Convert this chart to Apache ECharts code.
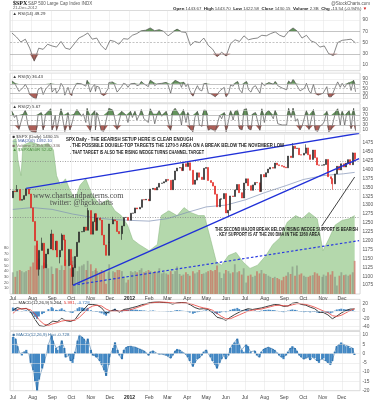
<!DOCTYPE html>
<html>
<head>
<meta charset="utf-8">
<script src="https://cdn.jsdelivr.net/npm/echarts@6/dist/echarts.min.js"></script>
<style>
html,body{margin:0;padding:0;background:#fff;}
#chart{width:377px;height:400px;}
</style>
</head>
<body>
<div id="chart"></div>
<script>
// ---- daily samples (about two per week) ----
const days = [
 '2011-07-01','2011-07-05','2011-07-08','2011-07-12','2011-07-15','2011-07-19','2011-07-22','2011-07-26','2011-07-29',
 '2011-08-02','2011-08-05','2011-08-08','2011-08-11','2011-08-16','2011-08-19','2011-08-23','2011-08-26','2011-08-31',
 '2011-09-02','2011-09-07','2011-09-09','2011-09-13','2011-09-16','2011-09-20','2011-09-22','2011-09-27','2011-09-30',
 '2011-10-03','2011-10-04','2011-10-07','2011-10-11','2011-10-14','2011-10-18','2011-10-21','2011-10-25','2011-10-27',
 '2011-11-01','2011-11-04','2011-11-08','2011-11-09','2011-11-11','2011-11-15','2011-11-18','2011-11-22','2011-11-25','2011-11-29','2011-11-30',
 '2011-12-06','2011-12-09','2011-12-13','2011-12-16','2011-12-20','2011-12-23','2011-12-27','2011-12-30',
 '2012-01-03','2012-01-06','2012-01-10','2012-01-13','2012-01-17','2012-01-20','2012-01-24','2012-01-27','2012-01-31',
 '2012-02-03','2012-02-07','2012-02-10','2012-02-14','2012-02-17','2012-02-21','2012-02-24','2012-02-28',
 '2012-03-02','2012-03-06','2012-03-09','2012-03-13','2012-03-16','2012-03-20','2012-03-23','2012-03-26','2012-03-30',
 '2012-04-02','2012-04-05','2012-04-10','2012-04-13','2012-04-17','2012-04-20','2012-04-24','2012-04-27',
 '2012-05-01','2012-05-04','2012-05-08','2012-05-11','2012-05-15','2012-05-18','2012-05-22','2012-05-25','2012-05-29',
 '2012-06-01','2012-06-05','2012-06-08','2012-06-12','2012-06-15','2012-06-19','2012-06-22','2012-06-26','2012-06-29',
 '2012-07-03','2012-07-06','2012-07-10','2012-07-13','2012-07-17','2012-07-20','2012-07-24','2012-07-27','2012-07-31',
 '2012-08-03','2012-08-07','2012-08-10','2012-08-14','2012-08-17','2012-08-21','2012-08-24','2012-08-28','2012-08-31',
 '2012-09-04','2012-09-07','2012-09-11','2012-09-14','2012-09-18','2012-09-21','2012-09-25','2012-09-28',
 '2012-10-02','2012-10-05','2012-10-09','2012-10-12','2012-10-16','2012-10-19','2012-10-23','2012-10-26','2012-10-31',
 '2012-11-02','2012-11-06','2012-11-09','2012-11-13','2012-11-16','2012-11-20','2012-11-23','2012-11-27','2012-11-30',
 '2012-12-04','2012-12-07','2012-12-11','2012-12-14','2012-12-18','2012-12-21'
];
const firstOpen = 1320.6;
const closes = [
 1339.7,1337.9,1343.8,1313.6,1316.1,1326.7,1345.0,1331.3,1292.3,
 1254.0,1199.4,1119.5,1172.6,1192.8,1123.5,1162.4,1176.8,1218.9,
 1174.0,1198.6,1154.2,1172.9,1216.0,1202.1,1129.6,1175.4,1131.4,
 1099.2,1124.0,1155.5,1195.5,1224.6,1225.4,1238.3,1229.1,1284.6,
 1218.3,1253.2,1275.9,1229.1,1263.9,1257.8,1215.7,1188.0,1158.7,1195.2,1247.0,
 1258.5,1255.2,1225.7,1219.7,1241.3,1265.3,1265.4,1257.6,
 1277.1,1277.8,1292.1,1289.1,1293.7,1315.4,1314.7,1316.3,1312.4,
 1344.9,1347.1,1342.6,1350.5,1361.2,1362.2,1365.7,1372.2,
 1369.6,1343.4,1370.9,1396.0,1404.2,1405.5,1397.1,1416.5,1408.5,
 1419.0,1398.1,1358.6,1370.3,1390.8,1378.5,1372.0,1403.4,
 1405.8,1369.1,1363.7,1353.4,1330.7,1295.2,1316.6,1317.8,1332.4,
 1278.0,1285.5,1325.7,1324.2,1342.8,1358.0,1335.0,1320.0,1362.2,
 1374.0,1354.7,1341.5,1356.8,1363.7,1362.7,1338.3,1386.0,1379.3,
 1391.0,1401.4,1405.9,1403.9,1418.2,1413.2,1411.1,1409.3,1406.6,
 1404.9,1437.9,1433.6,1465.8,1459.3,1460.2,1441.6,1440.7,
 1445.8,1460.9,1441.5,1428.6,1454.9,1433.2,1413.1,1411.9,1412.2,
 1414.2,1428.4,1379.9,1374.5,1359.9,1387.8,1409.2,1398.9,1416.2,
 1407.1,1418.1,1427.8,1413.6,1446.8,1430.2
];
// intraday extremes that stick out of the bodies
const wickDays = ['2011-07-08','2011-07-22','2011-08-11','2011-08-16','2011-08-19','2011-08-31','2011-09-13','2011-09-16',
 '2011-10-04','2011-10-27','2011-11-25','2011-12-06','2011-12-20','2012-04-02','2012-04-10','2012-06-05','2012-09-14',
 '2012-10-05','2012-11-16','2012-12-18','2012-12-21'];
const wickLow  = [null,null,1101.54,null,1121.09,null,1136.22,null,1074.77,null,1158.66,null,1202.37,null,1357.38,1266.74,null,null,1343.35,null,1422.58];
const wickHigh = [1356.48,1347.0,null,1208.47,null,1230.71,null,1220.39,null,1292.66,null,1267.06,null,1422.38,null,null,1474.51,1470.96,null,1448.0,1443.7];
// volume, in 100M shares
const volumes = [
 38,30,40,42,40,38,40,42,48,
 55,85,88,62,50,55,52,45,48,
 35,45,45,42,50,42,60,50,45,
 58,65,52,40,48,50,52,42,58,
 52,40,42,45,40,38,42,40,18,38,52,
 40,38,42,42,40,30,20,25,
 40,38,40,38,42,45,38,40,42,
 40,38,40,38,45,36,38,36,
 34,40,35,40,48,35,32,34,38,
 35,32,40,36,38,42,35,36,
 38,40,42,40,42,50,38,28,36,
 42,40,36,38,52,38,40,34,45,
 20,32,34,30,32,40,36,42,36,
 35,32,30,28,30,28,26,24,30,
 32,38,35,48,32,50,34,36,
 32,30,30,32,33,38,36,32,30,
 34,32,38,34,40,30,15,32,38,
 33,34,32,34,38,58
];
const rsi5 = [
 82,74,72,38,42,55,68,48,25,
 15,10,6,45,55,25,48,55,72,
 35,52,30,45,72,55,22,55,30,
 20,38,55,72,80,70,72,60,85,
 35,55,68,38,60,55,28,20,12,50,75,
 78,65,35,32,58,72,68,55,
 70,62,72,62,65,80,70,68,58,
 85,78,62,70,78,72,72,76,
 65,30,68,85,85,75,55,78,58,
 70,42,18,40,62,45,40,70,
 72,30,28,25,15,8,40,42,55,
 15,30,65,60,72,80,45,32,72,
 80,45,35,55,62,58,30,75,62,
 70,75,76,68,80,62,58,52,48,
 45,82,72,90,72,70,40,38,
 52,72,40,30,68,35,22,25,30,
 35,58,15,15,10,60,78,55,72,
 55,68,75,42,85,36.43
];
const rsi2 = [
 85,60,70,12,40,75,90,30,8,
 3,2,1,70,80,10,75,80,95,
 10,70,8,55,95,35,4,80,10,
 3,45,75,92,95,65,75,40,97,
 5,70,88,10,80,45,8,5,2,85,97,
 90,60,12,20,85,92,70,40,
 85,60,85,50,70,92,55,60,40,
 95,75,35,75,88,65,70,85,
 45,8,85,97,92,70,30,92,40,
 80,15,3,60,85,30,25,90,
 88,8,15,15,5,2,70,55,80,
 3,50,88,50,85,90,15,10,92,
 95,15,10,75,80,50,8,95,40,
 80,88,85,55,90,35,40,30,35,
 30,97,60,98,45,55,10,25,
 60,88,12,10,92,8,5,25,35,
 45,85,3,12,5,85,95,30,85,
 30,75,88,15,97,5.67
];
const macdHist = [
 9,8,4,0,-1,1,2,0,-5,
 -9,-15,-20,-14,-8,-5,0,5,10,
 7,3,2,4,7,3,-2,-1,-4,
 -5,-3,1,7,10,9,8,6,8,
 2,-1,-1,-2,-2,-4,-6,-9,-12,-6,-2,
 3,6,2,-1,-3,2,3.5,4,
 4,3.5,3.5,3,2.5,2,1.5,0.5,-1,
 1,1.5,0.5,0,-0.5,-0.3,-0.5,-1,
 -1.5,-2.5,-1,1.5,2.5,2,1,0.5,-0.5,
 -2,-4,-7,-5,-3,-2.5,-1,1,
 2,0,-2,-4,-6,-8,-5,-3,-1,
 -3,-1,3,5,6,8,5,2,1,
 5,4,1,0,1.5,-1,-2,1,2.5,
 3,3.5,3,2.5,2,0.5,-1,-2,-3,
 -1,1,3,4,3,1.5,-1,-2,
 -3,-2.5,-2,-3.5,-2,-2.5,-4,-5,-3,
 -2.5,-4,-5,-6,-4,1,4,5,6,
 5,4,4,3,3,-0.728
];

// ---- weekly samples (Fridays) ----
const weeks = [
 '2011-07-01','2011-07-08','2011-07-15','2011-07-22','2011-07-29','2011-08-05','2011-08-12','2011-08-19','2011-08-26',
 '2011-09-02','2011-09-09','2011-09-16','2011-09-23','2011-09-30','2011-10-07','2011-10-14','2011-10-21','2011-10-28',
 '2011-11-04','2011-11-11','2011-11-18','2011-11-25','2011-12-02','2011-12-09','2011-12-16','2011-12-23','2011-12-30',
 '2012-01-06','2012-01-13','2012-01-20','2012-01-27','2012-02-03','2012-02-10','2012-02-17','2012-02-24',
 '2012-03-02','2012-03-09','2012-03-16','2012-03-23','2012-03-30','2012-04-06','2012-04-13','2012-04-20','2012-04-27',
 '2012-05-04','2012-05-11','2012-05-18','2012-05-25','2012-06-01','2012-06-08','2012-06-15','2012-06-22','2012-06-29',
 '2012-07-06','2012-07-13','2012-07-20','2012-07-27','2012-08-03','2012-08-10','2012-08-17','2012-08-24','2012-08-31',
 '2012-09-07','2012-09-14','2012-09-21','2012-09-28','2012-10-05','2012-10-12','2012-10-19','2012-10-26',
 '2012-11-02','2012-11-09','2012-11-16','2012-11-23','2012-11-30','2012-12-07','2012-12-14','2012-12-21'
];
const rsi14 = [
 67,60,51,56,40,17,40,38,47,
 44,42,52,40,38,48,58,62,67,
 56,58,45,37,54,52,47,57,56,
 63,66,71,72,76,71,73,70,
 62,68,74,69,68,45,52,50,58,
 45,38,25,33,26,48,55,52,62,
 55,57,58,63,62,66,69,63,60,
 70,76,70,58,63,53,50,42,
 44,30,27,50,54,55,56,49.29
];
const macdLine = [
 2,9,5,7,-2,-22,-38,-40,-34,
 -26,-28,-19,-25,-27,-22,-6,4,17,
 17,15,8,-6,0,4,-3,4,6,
 9,12,16,19,22,23,23,22,
 21,18,21,22,21,16,9,5,6,
 4,-4,-16,-19,-24,-16,-9,-3,2,
 6,4,6,8,11,14,17,16,12,
 13,20,22,17,15,10,6,-3,
 -4,-10,-20,-13,-5,1,5,5.264
];
const signalLine = [
 -6,4,6,6,3,-8,-24,-34,-37,
 -33,-30,-26,-24,-24,-24,-16,-5,7,
 13,15,13,5,0,0,0,1,2,
 5,9,13,17,20,22,23,23,
 22,21,20,21,21,19,15,11,8,
 6,2,-6,-14,-20,-20,-15,-10,-5,
 0,2,4,5,8,11,14,15,14,
 13,16,19,19,17,14,10,5,
 0,-4,-12,-14,-11,-5,1,5.991
];

// ---- breadth-style indicator drawn as the green area (0..100) ----
const greenDates = ['2011-07-01','2011-07-06','2011-07-09','2011-07-14','2011-07-17','2011-07-29','2011-08-14','2011-08-26',
 '2011-09-03','2011-09-08','2011-09-14','2011-09-22','2011-09-29','2011-10-07','2011-10-15','2011-10-24','2011-11-03',
 '2011-11-15','2011-11-28','2011-12-09','2011-12-19','2011-12-29','2012-01-06','2012-01-16','2012-02-01','2012-02-14',
 '2012-02-20','2012-03-03','2012-03-16','2012-03-27','2012-04-06','2012-04-19','2012-04-28','2012-05-08','2012-05-17',
 '2012-05-25','2012-06-05','2012-06-17','2012-06-28','2012-07-09','2012-07-21','2012-08-03','2012-08-14','2012-08-25',
 '2012-09-06','2012-09-19','2012-09-29','2012-10-10','2012-10-23','2012-11-01','2012-11-11','2012-11-20','2012-12-01',
 '2012-12-12','2012-12-21'];
const greenVals = [96,97,84,74,93,95,93,94,90,74,68,72,65,59,68,72,62,56,59,52,49,43,34,31,27,31,
 49,52,49,54,51,49,49,34,20,18,24,26,20,16,18,24,31,35,45,49,47,51,47,27,35,43,46,47,49];

// ---- 200 day moving average ----
const maDates = ['2011-07-01','2011-08-01','2011-09-01','2011-10-03','2011-11-01','2011-12-01','2012-01-03','2012-02-01',
 '2012-03-01','2012-04-02','2012-05-01','2012-06-01','2012-07-02','2012-08-01','2012-09-04','2012-10-01','2012-11-01','2012-12-03','2012-12-21'];
const maVals = [1288,1293,1288,1275,1266,1260,1257,1255,1262,1280,1295,1300,1315,1335,1355,1372,1383,1388,1392.1];

// ---- drawn annotations (date, price) ----
const wedgeTop = [['2011-07-22',1347.0],['2012-12-28',1502]];
const wedgeBottom = [['2011-10-04',1074.77],['2012-12-28',1431]];
const channelLow = [['2011-10-04',1074.77],['2012-12-28',1200]];
const supportLevels = [1422.38, 1343.35, 1266.74];
const arrowFrom = ['2012-10-30',1241], arrowTo = ['2012-12-21',1379];
const noteDates = ['2011-07-07','2011-08-15','2011-08-31','2011-08-09','2011-08-22','2011-09-12','2011-10-04','2011-10-27',
 '2011-11-25','2011-12-05','2011-12-19','2012-04-02','2012-06-04','2012-11-16'];
const noteVals = [1356.48,1208.47,1230.71,1101.54,1121.09,1136.22,1074.77,1292.66,1158.66,1267.06,1202.37,1422.38,1266.74,1343.35];
const noteSide = ['t','t','t','b','b','b','b','t','b','t','b','t','b','b'];
const circDates = ['2012-09-14','2012-12-19'];
const circVals = [1474.51, 1448.00];

// ---- tick labels ----
const priceTicks = [1075,1100,1125,1150,1175,1200,1225,1250,1275,1300,1325,1350,1375,1400,1425,1450,1475];
const rsiTicks = [10,30,50,70,90];
const macdTicks = [-40,-20,0,20];
const histTicks = [-20,-15,-10,-5,0,5,10];
const volTicks = [10,20,30,40,50,60,70,80];
const monthNames = ['Jan','Feb','Mar','Apr','May','Jun','Jul','Aug','Sep','Oct','Nov','Dec'];

const T = s => new Date(s + 'T00:00:00').getTime();
const DAY = 864e5;
const FONT = '"Liberation Sans", Arial, sans-serif';

const candleData = days.map((d, i) => {
  const o = i ? closes[i - 1] : firstOpen, c = closes[i];
  let lo = Math.min(o, c), hi = Math.max(o, c);
  const k = wickDays.indexOf(d);
  if (k >= 0) {
    if (wickLow[k] != null) lo = Math.min(lo, wickLow[k]);
    if (wickHigh[k] != null) hi = Math.max(hi, wickHigh[k]);
  }
  return [T(d), o, c, lo, hi];
});
const volData = days.map((d, i) => ({
  value: [T(d), volumes[i]],
  itemStyle: { color: closes[i] < (i ? closes[i - 1] : firstOpen) ? 'rgba(205,90,80,0.6)' : 'rgba(120,128,118,0.5)' }
}));
const histData = days.map((d, i) => [T(d), macdHist[i]]);
const pair = arr => arr.map(p => [T(p[0]), p[1]]);

function monthLabel(v) {
  const d = new Date(v);
  if (d.getDate() !== 1 || d.getHours() !== 0) return '';
  if (d.getMonth() === 0) return '{y|' + d.getFullYear() + '}';
  return monthNames[d.getMonth()];
}

function hLines(vals, style) {
  return { silent: true, symbol: 'none', label: { show: false }, animation: false,
    lineStyle: style, data: vals.map(v => ({ yAxis: v })) };
}
function rsiLines() {
  const faint = { color: '#e3e3e3', width: 0.5, type: 'solid' };
  const mid = { color: '#9c9c9c', width: 0.6, type: 'solid' };
  return { silent: true, symbol: 'none', label: { show: false }, animation: false,
    data: [
      { yAxis: 90, lineStyle: faint }, { yAxis: 70, lineStyle: mid },
      { yAxis: 50, lineStyle: { color: '#9c9c9c', width: 0.6, type: [2, 1.5] } },
      { yAxis: 30, lineStyle: mid }, { yAxis: 10, lineStyle: faint }
    ] };
}
function rsiSeries(idx, dates, vals) {
  const pts = vals.map((v, i) => [T(dates[i]), v]);
  const base = { type: 'line', xAxisIndex: idx, yAxisIndex: idx, symbol: 'none', silent: true, animation: false };
  return [
    Object.assign({}, base, { data: vals.map((v, i) => [T(dates[i]), Math.max(v, 70)]), z: 2,
      lineStyle: { width: 0, opacity: 0 }, areaStyle: { origin: 70, color: '#5b8d52', opacity: 0.95 } }),
    Object.assign({}, base, { data: vals.map((v, i) => [T(dates[i]), Math.min(v, 30)]), z: 2,
      lineStyle: { width: 0, opacity: 0 }, areaStyle: { origin: 30, color: '#a9564f', opacity: 0.95 } }),
    Object.assign({}, base, { data: pts, z: 3, lineStyle: { color: '#555', width: 0.7 }, markLine: rsiLines() })
  ];
}

const grids = [
  { top: 10.5, height: 60.2 },
  { top: 73.1, height: 29.7 },
  { top: 103.75, height: 28.75 },
  { top: 134, height: 160 },
  { top: 299.4, height: 31 },
  { top: 331.5, height: 59.2 }
].map(g => Object.assign({ left: 10, right: 17, show: true, borderColor: '#c2c2c2', borderWidth: 0.6, backgroundColor: '#fff' }, g));

const xAxes = grids.map((g, i) => ({
  type: 'time', gridIndex: i, min: T('2011-06-28'), max: T('2012-12-28'),
  splitNumber: 18, minInterval: 28 * DAY, maxInterval: 31 * DAY,
  axisLine: { show: false }, axisTick: { show: false },
  axisLabel: { show: i === 3 || i === 5, formatter: monthLabel, fontSize: 5, color: '#444', fontFamily: FONT,
    margin: i === 3 ? 2 : 4.3, rich: { y: { fontWeight: 'bold', fontSize: 5, color: '#222', fontFamily: FONT } } },
  splitLine: { show: true, lineStyle: { color: '#e3e3e3', width: 0.5 } }
}));

function yAx(gi, min, max, interval, ticks, extra) {
  return Object.assign({
    type: 'value', gridIndex: gi, position: 'right', min, max, interval,
    axisLine: { show: false }, axisTick: { show: false }, splitLine: { show: false },
    axisLabel: { fontSize: 4.8, color: '#555', margin: 2.5, fontFamily: FONT,
      formatter: v => ticks.indexOf(Math.round(v * 100) / 100) >= 0 ? String(v) : '' }
  }, extra || {});
}
const yAxes = [
  yAx(0, 0, 107, 10, rsiTicks),
  yAx(1, -10, 115, 10, rsiTicks),
  yAx(2, 0, 115, 10, rsiTicks),
  yAx(3, 1050, 1500, 25, priceTicks),
  { type: 'value', gridIndex: 3, min: 0, max: 100, show: false },
  yAx(3, 0, 280, 10, volTicks, { position: 'left' }),
  yAx(4, -50, 30, 10, macdTicks),
  yAx(5, -20, 11.9, 5, histTicks)
];
yAxes[5].axisLabel.fontSize = 4;
yAxes[5].axisLabel.margin = 1.5;

const notesSeries = {
  type: 'scatter', xAxisIndex: 3, yAxisIndex: 3, symbolSize: 0.1, z: 8, silent: true,
  itemStyle: { opacity: 0 },
  data: noteDates.map((d, i) => ({ value: [T(d), noteVals[i], noteVals[i]],
    label: { position: noteSide[i] === 't' ? 'top' : 'bottom' } })),
  label: { show: true, formatter: p => p.data.value[2].toFixed(2), distance: 1.5, offset: [-3, 0],
    fontSize: 4.3, color: '#333', fontFamily: FONT, backgroundColor: 'rgba(255,255,255,0.92)',
    borderColor: '#adadad', borderWidth: 0.5, padding: [0.8, 1] },
  markLine: { silent: true, animation: false, symbol: ['none', 'arrow'], symbolSize: [0, 4.5], label: { show: false },
    lineStyle: { color: '#111', width: 0.8, type: 'solid' },
    data: [[{ coord: [T(arrowFrom[0]), arrowFrom[1]] }, { coord: [T(arrowTo[0]), arrowTo[1]] }]] }
};
const circSeries = {
  type: 'scatter', xAxisIndex: 3, yAxisIndex: 3, symbolSize: 0.1, z: 8, silent: true,
  itemStyle: { opacity: 0 },
  data: circDates.map((d, i) => ({ value: [T(d), circVals[i], circVals[i]] })),
  label: { show: true, position: 'inside', offset: [-1, -3], formatter: p => p.data.value[2].toFixed(2),
    fontSize: 4.3, color: '#333', fontFamily: FONT, borderColor: '#333', borderWidth: 0.6,
    borderRadius: 6, padding: [2.5, 2.5], backgroundColor: 'rgba(255,255,255,0.3)' }
};
const trend = (pts, style) => ({ type: 'line', xAxisIndex: 3, yAxisIndex: 3, data: pair(pts), symbol: 'none',
  silent: true, z: 6, lineStyle: style });

const series = [].concat(
  rsiSeries(0, weeks, rsi14),
  rsiSeries(1, days, rsi5),
  rsiSeries(2, days, rsi2),
  [
    { type: 'line', xAxisIndex: 3, yAxisIndex: 4, symbol: 'none', silent: true, z: 1,
      data: greenDates.map((d, i) => [T(d), greenVals[i]]),
      lineStyle: { color: '#86b57c', width: 0.5 }, areaStyle: { color: '#b4d8ac', opacity: 1 },
      markLine: hLines(priceTicks, { color: 'rgba(0,0,0,0.07)', width: 0.5, type: 'solid' }) },
    { type: 'bar', xAxisIndex: 3, yAxisIndex: 5, data: volData, barWidth: 1.8, z: 2, silent: true },
    { type: 'line', xAxisIndex: 3, yAxisIndex: 3, symbol: 'none', silent: true, z: 3,
      data: maDates.map((d, i) => [T(d), maVals[i]]), lineStyle: { color: '#7f90b4', width: 0.7 } },
    { type: 'candlestick', xAxisIndex: 3, yAxisIndex: 3, data: candleData, barWidth: 1.5, z: 5, silent: true,
      itemStyle: { color: '#222', color0: '#e0201b', borderColor: '#222', borderColor0: '#e0201b', borderWidth: 0.6 },
      markLine: hLines(supportLevels, { color: '#808080', width: 0.7, type: [1, 1.5] }) },
    trend(wedgeTop, { color: '#2030d8', width: 1.3 }),
    trend(wedgeBottom, { color: '#2030d8', width: 1.3 }),
    trend(channelLow, { color: '#2a3ae0', width: 1.2, type: [2.5, 2] }),
    notesSeries,
    circSeries,
    { type: 'bar', xAxisIndex: 4, yAxisIndex: 6, data: histData, barWidth: 2, z: 2, silent: true,
      itemStyle: { color: '#4a8cc6' },
      markLine: hLines(macdTicks, { color: '#e0e0e0', width: 0.5, type: 'solid' }) },
    { type: 'line', xAxisIndex: 4, yAxisIndex: 6, symbol: 'none', silent: true, z: 3,
      data: weeks.map((d, i) => [T(d), macdLine[i]]), lineStyle: { color: '#111', width: 0.8 } },
    { type: 'line', xAxisIndex: 4, yAxisIndex: 6, symbol: 'none', silent: true, z: 3,
      data: weeks.map((d, i) => [T(d), signalLine[i]]), lineStyle: { color: '#e8403a', width: 0.8 } },
    { type: 'bar', xAxisIndex: 5, yAxisIndex: 7, data: histData, barWidth: 2.2, z: 2, silent: true,
      itemStyle: { color: '#4388c4' },
      markLine: hLines(histTicks, { color: '#e0e0e0', width: 0.5, type: 'solid' }) },
    { type: 'line', xAxisIndex: 5, yAxisIndex: 7, symbol: 'none', silent: true, z: 3,
      data: histData, lineStyle: { color: '#1f5e96', width: 0.5 } }
  ]
);

// ---- text overlays ----
const measure = document.createElement('canvas').getContext('2d');
function fitText(text, x, y, target) {
  const font = 'bold 5.2px ' + FONT;
  measure.font = font;
  return { type: 'text', x, y, z: 100, scaleX: target / measure.measureText(text).width,
    style: { text, font, fill: '#1c1c1c', verticalAlign: 'middle' } };
}
function txt(text, x, y, size, fill, extra) {
  return { type: 'text', x, y, z: 100,
    style: Object.assign({ text, font: size + 'px ' + FONT, fill, verticalAlign: 'middle' }, extra || {}) };
}
const rich = (size, fill, bold) => ({ fontSize: size, fontFamily: FONT, fill, fontWeight: bold ? 'bold' : 'normal' });

const graphic = [
  { type: 'text', x: 13, y: 3.6, z: 100, style: { text: '$SPX', font: 'bold 6px "Liberation Serif", serif', fill: '#111', verticalAlign: 'middle' } },
  txt('S&P 500 Large Cap Index INDX', 28, 3.6, 4.5, '#555'),
  txt('21-Dec-2012', 13, 8.3, 4.2, '#666'),
  txt('@StockCharts.com', 370, 3.6, 4.5, '#555', { align: 'right' }),
  { type: 'text', x: 367, y: 8.6, z: 100, style: {
      text: '{b|Open} 1443.67  {b|High} 1443.70  {b|Low} 1422.58  {b|Close} 1430.15  {b|Volume} 2.3B  {b|Chg} -13.54 (-0.94%) {r|▼}',
      font: '4.4px ' + FONT, fill: '#444', align: 'right', verticalAlign: 'middle',
      rich: { b: rich(4.4, '#222', true), r: rich(4.4, '#d01010', false) } } },
  txt('▲ RSI(14) 49.29', 12.5, 14, 4.4, '#333'),
  txt('▲ RSI(5) 36.43', 12.5, 76.3, 4.4, '#333'),
  txt('▲ RSI(2) 5.67', 12.5, 106.8, 4.4, '#333'),
  txt('■ $SPX (Daily) 1430.15', 12.5, 136.5, 4.4, '#333'),
  txt('— MA(200) 1392.10', 12.5, 141, 4.4, '#4a63a5'),
  txt('■ Volume 2,355,880,336', 12.5, 145.5, 4.4, '#7a6b68'),
  txt('▲ $SPXA50R 52.42', 12.5, 150, 4.4, '#4f8f45'),
  { type: 'text', x: 13, y: 302.5, z: 100, style: {
      text: '— MACD(12,26,9) {k|5.264}, {r|5.991}, {b|-0.728}', font: '4.4px ' + FONT, fill: '#333', verticalAlign: 'middle',
      rich: { k: rich(4.4, '#111', false), r: rich(4.4, '#e8403a', false), b: rich(4.4, '#3a7cc0', false) } } },
  txt('■ MACD(12,26,9) Hist -0.728', 12.5, 334.3, 4.4, '#3a6f9f'),
  { type: 'text', x: 33, y: 196, z: 90, style: { text: 'www.chartsandpatterns.com', font: '8px "Liberation Serif", serif', fill: '#4a4a4a', verticalAlign: 'middle' } },
  { type: 'text', x: 50, y: 203.5, z: 90, style: { text: 'twitter: @hgckcharts', font: '7.5px "Liberation Serif", serif', fill: '#4a4a4a', verticalAlign: 'middle' } },
  fitText('SPX Daily - THE BEARISH SETUP HERE IS CLEAR ENOUGH', 66, 140, 127),
  fitText('. THE POSSIBLE DOUBLE-TOP TARGETS THE 1270-5 AREA ON A BREAK BELOW THE NOVEMBER LOW', 70, 146, 214),
  fitText('. THAT TARGET IS ALSO THE RISING WEDGE TURNS CHANNEL TARGET', 70, 152.5, 134),
  fitText('THE SECOND MAJOR BREAK BELOW RISING WEDGE SUPPORT IS BEARISH', 215, 229.3, 143),
  fitText('. KEY SUPPORT IS AT THE 200 DMA IN THE 1260 AREA', 217, 235, 103)
];

const chart = echarts.init(document.getElementById('chart'), null, { renderer: 'canvas' });
chart.setOption({
  animation: false,
  backgroundColor: '#fff',
  textStyle: { fontFamily: FONT },
  grid: grids,
  xAxis: xAxes,
  yAxis: yAxes,
  series: series,
  graphic: graphic
});
</script>
</body>
</html>
